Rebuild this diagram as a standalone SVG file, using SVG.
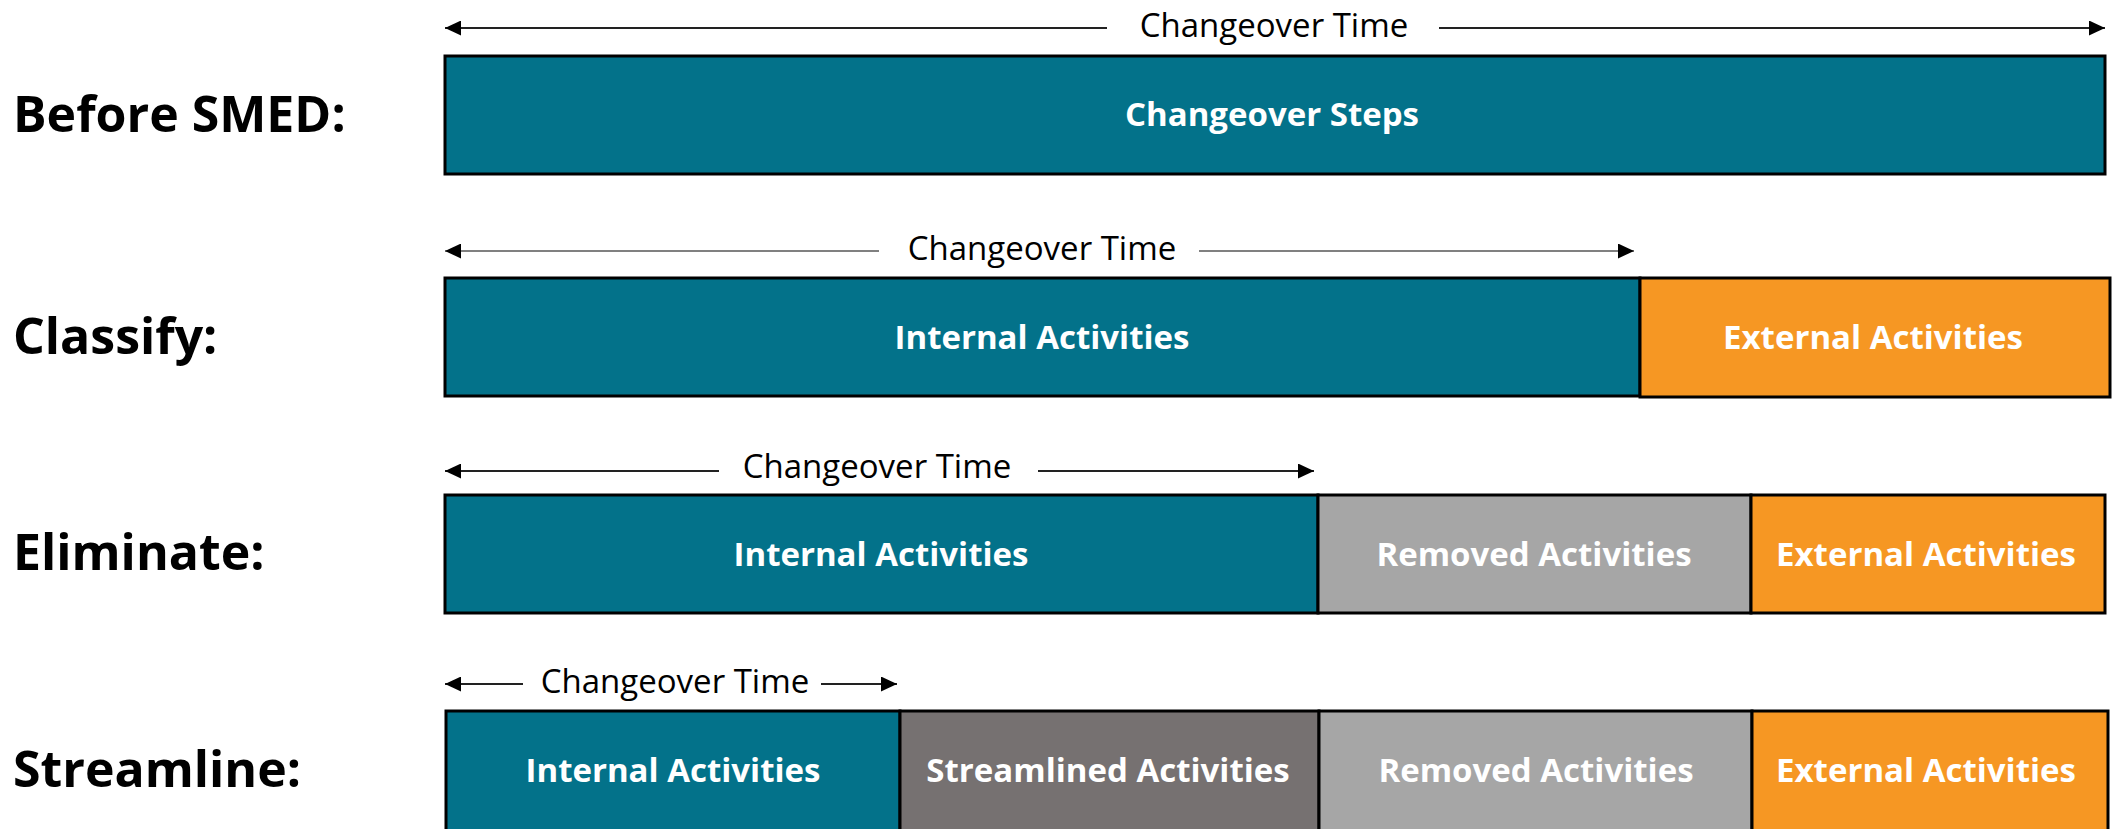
<svg xmlns="http://www.w3.org/2000/svg" width="2113" height="829" viewBox="0 0 2113 829">
<style>
.lbl{font-family:"Open Sans","Noto Sans",sans-serif;font-weight:bold;font-size:50px;fill:#000}
.ct{font-family:"Open Sans","Noto Sans",sans-serif;font-size:33px;fill:#000;text-anchor:middle}
.bt{font-family:"Open Sans","Noto Sans",sans-serif;font-weight:bold;font-size:33px;fill:#fff;text-anchor:middle}
.box{stroke:#000;stroke-width:3}
.teal{fill:#03728A}
.orange{fill:#F69723}
.removed{fill:#A6A6A6}
.stream{fill:#767171}
.arr{stroke:#222;stroke-width:2;fill:none}
.arr.g{stroke:#808080}
</style>
<defs>
<marker id="ah" viewBox="0 0 16 15" refX="16" refY="7.5" markerWidth="16" markerHeight="15" markerUnits="userSpaceOnUse" orient="auto-start-reverse">
<path d="M0,0 L16,7.5 L0,15 z" fill="#000"/>
</marker>
</defs>
<rect width="2113" height="829" fill="#fff"/>

<g id="labels">
<text class="lbl" x="13" y="132">Before SMED:</text>
<text class="lbl" x="13" y="354">Classify:</text>
<text class="lbl" x="13" y="570">Eliminate:</text>
<text class="lbl" x="13" y="787">Streamline:</text>
</g>

<g id="connectors">
<line class="arr" x1="445" y1="28" x2="1107" y2="28" marker-start="url(#ah)"/>
<line class="arr" x1="1439" y1="28" x2="2105" y2="28" marker-end="url(#ah)"/>
<line class="arr g" x1="445" y1="251" x2="879" y2="251" marker-start="url(#ah)"/>
<line class="arr g" x1="1199" y1="251" x2="1634" y2="251" marker-end="url(#ah)"/>
<line class="arr" x1="445" y1="471" x2="719" y2="471" marker-start="url(#ah)"/>
<line class="arr" x1="1038" y1="471" x2="1314" y2="471" marker-end="url(#ah)"/>
<line class="arr" x1="445" y1="684" x2="523" y2="684" marker-start="url(#ah)"/>
<line class="arr" x1="821" y1="684" x2="897" y2="684" marker-end="url(#ah)"/>
<text class="ct" x="1274" y="37">Changeover Time</text>
<text class="ct" x="1042" y="260">Changeover Time</text>
<text class="ct" x="877" y="478">Changeover Time</text>
<text class="ct" x="675" y="693">Changeover Time</text>
</g>

<g id="row1-steps">
<rect class="box teal" x="445" y="56" width="1660" height="118"/>
<text class="bt" x="1272" y="126">Changeover Steps</text>
</g>

<g id="row2-internal">
<rect class="box teal" x="445" y="278" width="1195" height="118"/>
<text class="bt" x="1042" y="349">Internal Activities</text>
</g>
<g id="row2-external">
<rect class="box orange" x="1640" y="278" width="470" height="119"/>
<text class="bt" x="1873" y="349">External Activities</text>
</g>

<g id="row3-internal">
<rect class="box teal" x="445" y="495" width="873" height="118"/>
<text class="bt" x="881" y="566">Internal Activities</text>
</g>
<g id="row3-removed">
<rect class="box removed" x="1318" y="495" width="433" height="118"/>
<text class="bt" x="1534" y="566">Removed Activities</text>
</g>
<g id="row3-external">
<rect class="box orange" x="1751" y="495" width="354" height="118"/>
<text class="bt" x="1926" y="566">External Activities</text>
</g>

<g id="row4-internal">
<rect class="box teal" x="446" y="711" width="454" height="122"/>
<text class="bt" x="673" y="782">Internal Activities</text>
</g>
<g id="row4-streamlined">
<rect class="box stream" x="900" y="711" width="419" height="122"/>
<text class="bt" x="1108" y="782">Streamlined Activities</text>
</g>
<g id="row4-removed">
<rect class="box removed" x="1319" y="711" width="433" height="122"/>
<text class="bt" x="1536" y="782">Removed Activities</text>
</g>
<g id="row4-external">
<rect class="box orange" x="1752" y="711" width="356" height="122"/>
<text class="bt" x="1926" y="782">External Activities</text>
</g>
</svg>
